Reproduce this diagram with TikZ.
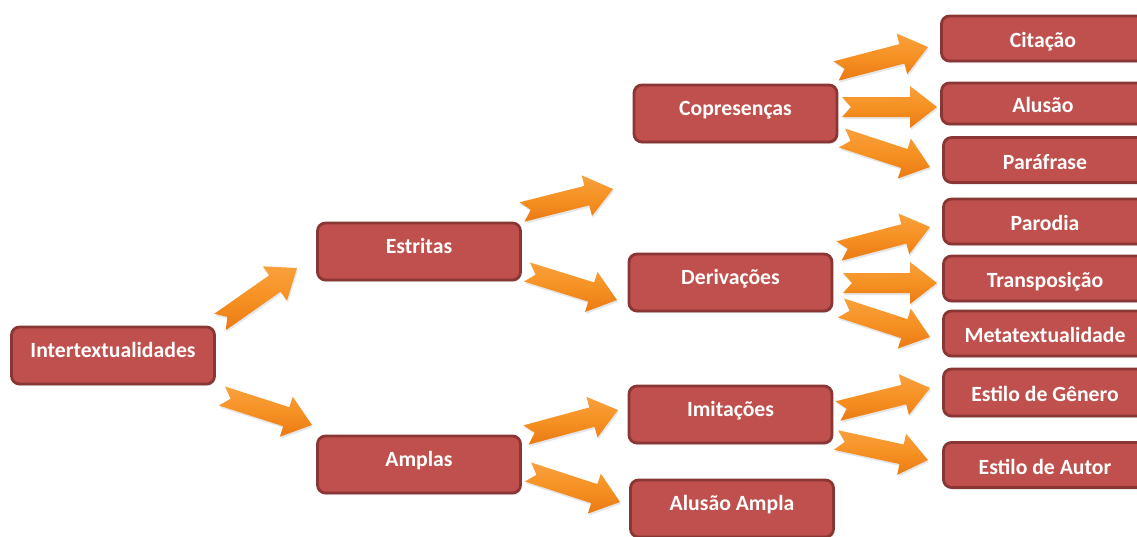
\documentclass[tikz,border=0pt]{standalone}
\usepackage{fontspec}
\setmainfont{Carlito}
\usetikzlibrary{calc,shadows}
\definecolor{boxfill}{RGB}{192,80,77}
\definecolor{boxedge}{RGB}{138,54,52}
\definecolor{arrowmid}{RGB}{246,145,35}
\definecolor{arrowlight}{RGB}{249,160,60}
\definecolor{arrowdark}{RGB}{234,122,20}
\tikzset{
  bigbox/.style={draw=boxedge, line width=2.8pt, fill=boxfill, rounded corners=8pt,
    text=white, font=\bfseries\fontsize{21.7}{26}\selectfont, inner sep=0pt,
    minimum width=203pt, minimum height=57pt, text height=15pt, text depth=11pt,
    drop shadow={opacity=0.25, shadow xshift=1pt, shadow yshift=-2pt}},
  smallbox/.style={bigbox, minimum height=45pt, text height=19pt, text depth=1pt},
  arrowshape/.style={top color=arrowlight, bottom color=arrowdark, middle color=arrowmid,
    drop shadow={opacity=0.2, shadow xshift=1pt, shadow yshift=-2pt}}
}
\newcommand\blockarrow[2]{%
  \path[arrowshape] let \p1=(#1), \p2=(#2),
    \n1={atan2(\y2-\y1,\x2-\x1)}, \n2={veclen(\x2-\x1,\y2-\y1)} in
    [shift={(\p1)}, rotate=\n1]
    (0pt,10pt) -- ({\n2-27pt},10pt) -- ({\n2-27pt},21pt) -- ({\n2},0pt)
    -- ({\n2-27pt},-21pt) -- ({\n2-27pt},-10pt) -- (0pt,-10pt) -- (9pt,0pt) -- cycle;}
\begin{document}
\begin{tikzpicture}[x=1pt,y=-1pt]
\useasboundingbox (0,0) rectangle (1137,536);
\clip (0,0) rectangle (1137,536);
% boxes
\node[bigbox] (inter) at (113,355.5) {Intertextualidades};
\node[bigbox] (estr) at (419,251.5) {Estritas};
\node[bigbox] (ampl) at (419,464.5) {Amplas};
\node[bigbox] (copr) at (735.5,113.5) {Copresenças};
\node[bigbox] (deri) at (730.5,282.5) {Derivações};
\node[bigbox] (imit) at (730.5,414.5) {Imitações};
\node[bigbox] (alam) at (732,508.5) {Alusão Ampla};
\node[smallbox] (cita) at (1043,38.5) {Citação};
\node[smallbox, minimum height=41pt] (alus) at (1043,103.5) {Alusão};
\node[smallbox] (para) at (1045,160) {Paráfrase};
\node[smallbox] (paro) at (1045,221.5) {Parodia};
\node[smallbox] (tran) at (1045,278.5) {Transposição};
\node[smallbox] (meta) at (1045,333.5) {Metatextualidade};
\node[smallbox, minimum height=47pt] (gene) at (1045,392.5) {Estilo de Gênero};
\node[smallbox] (auto) at (1045,465) {Estilo de Autor};
% arrow end points
\coordinate (t1) at (220,322);  \coordinate (h1) at (297,268);
\coordinate (t2) at (222,396);  \coordinate (h2) at (312,425);
\coordinate (t3) at (522,212);  \coordinate (h3) at (613,189);
\coordinate (t4) at (527,272);  \coordinate (h4) at (617,300);
\coordinate (t5) at (836,71);   \coordinate (h5) at (928,47);
\coordinate (t6) at (842,107);  \coordinate (h6) at (937,107);
\coordinate (t7) at (842,138);  \coordinate (h7) at (930,167);
\coordinate (t8) at (839,251);  \coordinate (h8) at (930,227);
\coordinate (t9) at (843,283);  \coordinate (h9) at (937,283);
\coordinate (t10) at (841,308); \coordinate (h10) at (930,337);
\coordinate (t11) at (838,411); \coordinate (h11) at (930,388);
\coordinate (t12) at (836,440); \coordinate (h12) at (928,460);
\coordinate (t13) at (526,435); \coordinate (h13) at (618,410);
\coordinate (t14) at (528,472); \coordinate (h14) at (620,502);
\foreach \i in {1,...,14}{\blockarrow{t\i}{h\i}}
\end{tikzpicture}
\end{document}
